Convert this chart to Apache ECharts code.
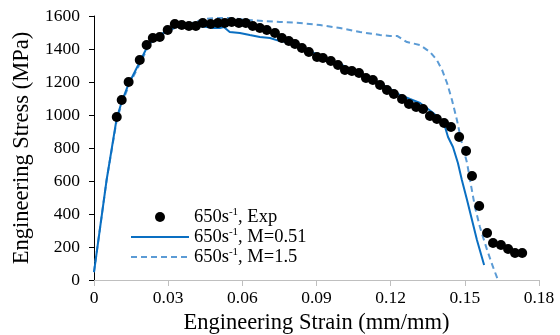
<!DOCTYPE html>
<html>
<head>
<meta charset="utf-8">
<script src="https://cdn.jsdelivr.net/npm/echarts@6/dist/echarts.min.js"></script>
<style>
  html, body { margin: 0; padding: 0; background: #fff; }
  #chart { width: 560px; height: 335px; }
</style>
</head>
<body>
<div id="chart"></div>
<script>
// Engineering stress–strain at 650 s^-1: experiment vs. two model fits
const seriesNames = ['650s-1, Exp', '650s-1, M=0.51', '650s-1, M=1.5'];

const xTickLabels = ['0', '0.03', '0.06', '0.09', '0.12', '0.15', '0.18'];
const yTickLabels = ['0', '200', '400', '600', '800', '1000', '1200', '1400', '1600'];

// Experimental points [strain, stress (MPa)]
const expStrain = [0.0092, 0.0112, 0.0140, 0.0185, 0.0213, 0.0238, 0.0266, 0.0298, 0.0327, 0.0355,
  0.0384, 0.0412, 0.0440, 0.0472, 0.0501, 0.0529, 0.0557, 0.0586, 0.0614, 0.0642,
  0.0671, 0.0699, 0.0732, 0.0760, 0.0788, 0.0813, 0.0841, 0.0869, 0.0902, 0.0926,
  0.0958, 0.0987, 0.1015, 0.1043, 0.1072, 0.1100, 0.1128, 0.1157, 0.1185, 0.1213,
  0.1246, 0.1274, 0.1303, 0.1331, 0.1359, 0.1387, 0.1416, 0.1444, 0.1477, 0.1505,
  0.1529, 0.1558, 0.1590, 0.1614, 0.1646, 0.1675, 0.1703, 0.1732];
const expStress = [988, 1091, 1200, 1333, 1424, 1467, 1473, 1515, 1552, 1545,
  1539, 1539, 1558, 1552, 1558, 1558, 1564, 1558, 1558, 1539,
  1527, 1515, 1497, 1467, 1448, 1430, 1406, 1382, 1352, 1345,
  1327, 1303, 1273, 1267, 1255, 1224, 1212, 1182, 1152, 1127,
  1097, 1067, 1048, 1036, 994, 976, 952, 927, 867, 782,
  630, 448, 285, 224, 212, 188, 164, 164];

// Model, M = 0.51
const m051Strain = [0, 0.0051, 0.0092, 0.0112, 0.0140, 0.0185, 0.0213, 0.0238, 0.0266, 0.0298,
  0.0327, 0.0355, 0.0387, 0.0427, 0.0456, 0.0481, 0.0509, 0.0525, 0.0549, 0.0590,
  0.0630, 0.0671, 0.0712, 0.0752, 0.0805, 0.0833, 0.0873, 0.0914, 0.0955, 0.0995,
  0.1035, 0.1076, 0.1116, 0.1157, 0.1197, 0.1238, 0.1278, 0.1319, 0.1367, 0.1391,
  0.1412, 0.1420, 0.1432, 0.1452, 0.1472, 0.1488, 0.1509, 0.1529, 0.1549, 0.1578];
const m051Stress = [48, 606, 982, 1079, 1188, 1321, 1406, 1455, 1485, 1515,
  1533, 1539, 1545, 1539, 1533, 1527, 1527, 1533, 1503, 1497,
  1485, 1473, 1467, 1448, 1436, 1418, 1388, 1358, 1333, 1309,
  1279, 1255, 1224, 1194, 1158, 1121, 1097, 1073, 1018, 988,
  952, 927, 867, 806, 709, 606, 485, 364, 242, 91];

// Model, M = 1.5
const m15Strain = [0, 0.0051, 0.0092, 0.0112, 0.0140, 0.0185, 0.0213, 0.0238, 0.0266, 0.0298,
  0.0327, 0.0367, 0.0408, 0.0448, 0.0489, 0.0549, 0.0618, 0.0683, 0.0752, 0.0833,
  0.0914, 0.0995, 0.1076, 0.1157, 0.1197, 0.1226, 0.1266, 0.1319, 0.1359, 0.1387,
  0.1408, 0.1428, 0.1448, 0.1468, 0.1485, 0.1509, 0.1521, 0.1541, 0.1561, 0.1590,
  0.1614, 0.1634];
const m15Stress = [48, 606, 970, 1067, 1176, 1309, 1394, 1442, 1479, 1509,
  1527, 1545, 1564, 1582, 1588, 1588, 1576, 1570, 1564, 1558,
  1545, 1527, 1503, 1485, 1479, 1479, 1442, 1424, 1382, 1333,
  1273, 1194, 1091, 970, 848, 709, 606, 442, 321, 182,
  79, 0];

const zip = (a, b) => a.map((v, i) => [v, b[i]]);

const FONT = '"Liberation Serif", "Times New Roman", serif';

const chart = echarts.init(document.getElementById('chart'), null, { renderer: 'canvas' });

chart.setOption({
  animation: false,
  backgroundColor: '#ffffff',
  grid: { left: 94, right: 21, top: 16, bottom: 55, containLabel: false, outerBoundsMode: 'none' },
  xAxis: {
    type: 'value',
    min: 0, max: 0.18, interval: 0.03,
    name: 'Engineering Strain (mm/mm)',
    nameLocation: 'middle',
    nameGap: 27,
    nameTextStyle: { fontFamily: FONT, fontSize: 22.5, color: '#000' },
    axisLine: { show: true, lineStyle: { color: '#bfbfbf', width: 1 } },
    axisTick: { show: true, inside: false, length: 6, lineStyle: { color: '#bfbfbf' } },
    axisLabel: {
      fontFamily: FONT, fontSize: 17.5, color: '#000', margin: 9,
      formatter: (v) => xTickLabels[Math.round(v / 0.03)]
    },
    splitLine: { show: false }
  },
  yAxis: {
    type: 'value',
    min: 0, max: 1600, interval: 200,
    name: 'Engineering Stress (MPa)',
    nameLocation: 'middle',
    nameGap: 60,
    nameTextStyle: { fontFamily: FONT, fontSize: 22.5, color: '#000' },
    axisLine: { show: true, lineStyle: { color: '#000', width: 1 } },
    axisTick: { show: true, inside: false, length: 5, lineStyle: { color: '#000' } },
    axisLabel: {
      fontFamily: FONT, fontSize: 17.5, color: '#000', margin: 14,
      formatter: (v) => yTickLabels[Math.round(v / 200)]
    },
    splitLine: { show: false }
  },
  legend: {
    show: true,
    orient: 'vertical',
    left: 125, top: 202,
    padding: 5,
    itemWidth: 58, itemHeight: 10,
    itemGap: 0,
    data: [
      { name: seriesNames[0] },
      { name: seriesNames[1], itemStyle: { opacity: 0 } },
      { name: seriesNames[2], itemStyle: { opacity: 0 } }
    ],
    formatter: (name) => '650s{sup|-1}' + name.replace('650s-1', ''),
    textStyle: {
      fontFamily: FONT, fontSize: 18.5, color: '#000', lineHeight: 20,
      rich: {
        sup: { fontFamily: FONT, fontSize: 11, verticalAlign: 'top', lineHeight: 20, padding: [0, 0, 9, 0], color: '#000' }
      }
    }
  },
  series: [
    {
      name: seriesNames[0],
      type: 'scatter',
      data: zip(expStrain, expStress),
      symbol: 'circle',
      symbolSize: 10,
      itemStyle: { color: '#000', opacity: 1 },
      z: 3
    },
    {
      name: seriesNames[1],
      type: 'line',
      data: zip(m051Strain, m051Stress),
      showSymbol: false,
      symbol: 'none',
      lineStyle: { color: '#0a6fc2', width: 2 },
      itemStyle: { color: '#0a6fc2' },
      z: 2
    },
    {
      name: seriesNames[2],
      type: 'line',
      data: zip(m15Strain, m15Stress),
      showSymbol: false,
      symbol: 'none',
      lineStyle: { color: '#5b9bd5', width: 2, type: [6, 4] },
      itemStyle: { color: '#5b9bd5' },
      z: 1
    }
  ]
});
</script>
</body>
</html>
